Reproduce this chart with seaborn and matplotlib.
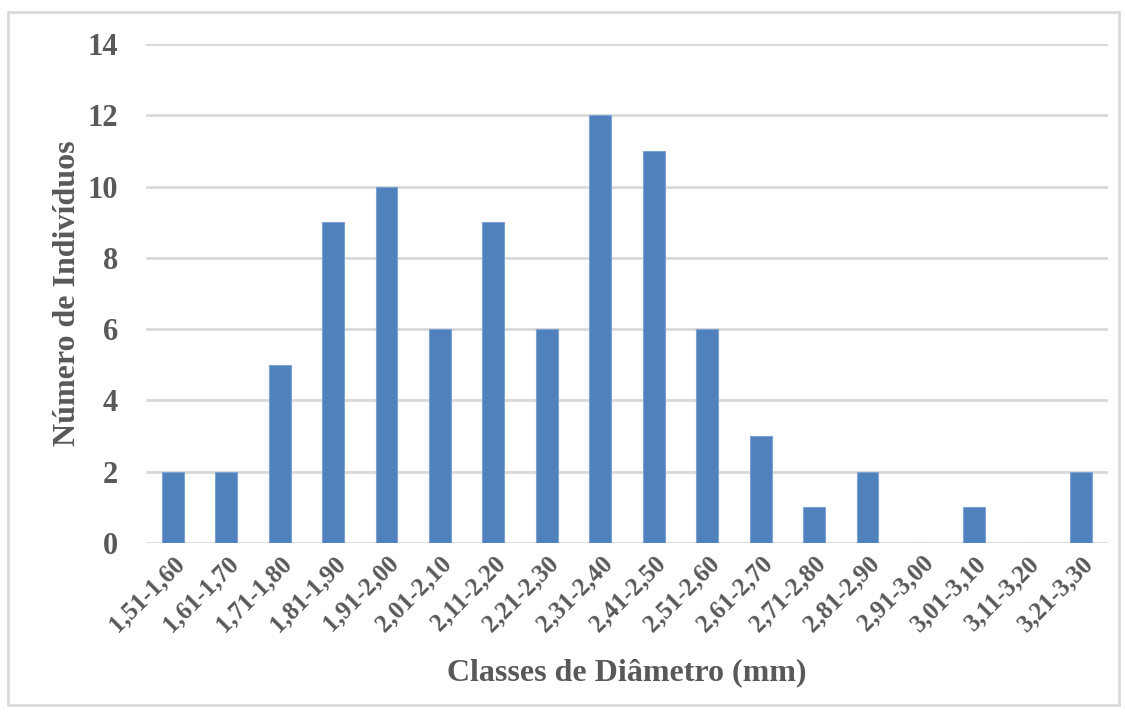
import numpy as np
import pandas as pd
import seaborn as sns
import matplotlib.pyplot as plt
from matplotlib.patches import Rectangle

# Diameter classes and number of individuals per class
classes = ['1,51-1,60', '1,61-1,70', '1,71-1,80', '1,81-1,90', '1,91-2,00',
           '2,01-2,10', '2,11-2,20', '2,21-2,30', '2,31-2,40', '2,41-2,50',
           '2,51-2,60', '2,61-2,70', '2,71-2,80', '2,81-2,90', '2,91-3,00',
           '3,01-3,10', '3,11-3,20', '3,21-3,30']
counts = [2, 2, 5, 9, 10, 6, 9, 6, 12, 11, 6, 3, 1, 2, 0, 1, 0, 2]
y_ticks = [0, 2, 4, 6, 8, 10, 12, 14]

sns.set_style('white')
plt.rcParams['font.family'] = ['Liberation Serif', 'DejaVu Serif']
plt.rcParams['font.weight'] = 'bold'

text_grey = '#595959'
grid_grey = '#d9d9d9'

df = pd.DataFrame({'classe': classes, 'n': counts})

fig = plt.figure(figsize=(11.25, 7.14), dpi=100)
ax = fig.add_axes([0.1298, 0.2395, 0.8551, 0.6989])

sns.barplot(data=df, x='classe', y='n', order=classes, color='#4f81bd',
            saturation=1, width=0.41, edgecolor='#7fa3d0', linewidth=0.8,
            ax=ax, zorder=3)

ax.set_xlim(-0.5, len(classes) - 0.5)
ax.set_ylim(0, 14)
ax.set_yticks(y_ticks)
ax.yaxis.grid(True, color=grid_grey, linewidth=2, zorder=0)
ax.set_axisbelow(True)
for s in ['top', 'right', 'left', 'bottom']:
    ax.spines[s].set_visible(False)
ax.tick_params(axis='both', length=0)
ax.tick_params(axis='y', labelsize=22, labelcolor=text_grey, pad=20)
ax.tick_params(axis='x', labelsize=18, labelcolor=text_grey, pad=6)
plt.setp(ax.get_xticklabels(), rotation=45, ha='right', rotation_mode='anchor',
         fontweight='bold')
plt.setp(ax.get_yticklabels(), fontweight='bold')

ax.set_xlabel('Classes de Diâmetro (mm)', fontsize=23, fontweight='bold',
              color=text_grey, labelpad=16)
ax.set_ylabel('Número de Indivíduos', fontsize=23, fontweight='bold',
              color=text_grey, labelpad=4)

# light border around the whole chart, as in the source figure
fig.patches.append(Rectangle((8 / 1125, 9 / 714), 1111 / 1125, 693 / 714,
                             transform=fig.transFigure, fill=False,
                             edgecolor=grid_grey, linewidth=2))

fig.savefig('out.png', dpi=100)
